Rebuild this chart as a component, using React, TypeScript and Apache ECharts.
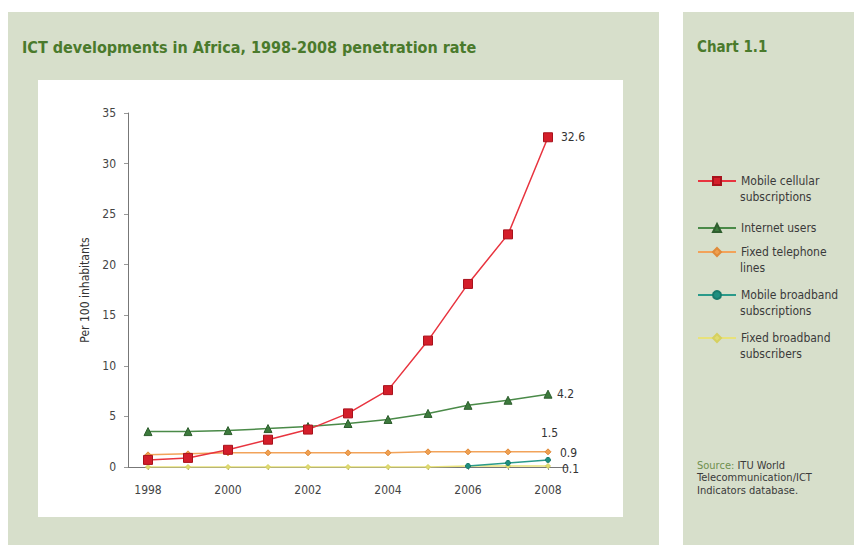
import React, { useEffect, useRef } from "react";
import * as echarts from "echarts";

const years = ["1998", "1999", "2000", "2001", "2002", "2003", "2004", "2005", "2006", "2007", "2008"];
const mobileCellular = [0.7, 0.9, 1.7, 2.7, 3.7, 5.3, 7.6, 12.5, 18.1, 23.0, 32.6];
const internetUsers = [3.5, 3.5, 3.6, 3.8, 4.0, 4.3, 4.7, 5.3, 6.1, 6.6, 7.2];
const fixedTelephone = [1.2, 1.3, 1.4, 1.4, 1.4, 1.4, 1.4, 1.5, 1.5, 1.5, 1.5];
const mobileBroadband = [null, null, null, null, null, null, null, null, 0.1, 0.4, 0.7];
const fixedBroadband = [0.0, 0.0, 0.0, 0.0, 0.0, 0.0, 0.0, 0.0, 0.1, 0.1, 0.1];

const seriesNames = [
  "Mobile cellular subscriptions",
  "Internet users",
  "Fixed telephone lines",
  "Mobile broadband subscriptions",
  "Fixed broadband subscribers",
];
const legendFirstLines = ["Mobile cellular", "Internet users", "Fixed telephone", "Mobile broadband", "Fixed broadband"];
const legendSecondLines = ["subscriptions", "", "lines", "subscriptions", "subscribers"];
const endLabels = ["32.6", "4.2", "1.5", "0.9", "0.1"];
const yTicks = [0, 35, 5];

const FONT = "'Liberation Sans Narrow', 'DejaVu Sans Condensed', 'Arial Narrow', sans-serif";

export default function App() {
  const ref = useRef<HTMLDivElement>(null);
  useEffect(() => {
    document.body.style.margin = "0";
    const chart = echarts.init(ref.current!, null, { renderer: "svg" });
    const seriesData = [mobileCellular, internetUsers, fixedTelephone, mobileBroadband, fixedBroadband];
    const styles = [
      { line: "#e8343f", fill: "#d41e2a", border: "#a8121c", symbol: "rect", size: 9, offset: [8, 0] },
      { line: "#4a8a48", fill: "#3c7a3c", border: "#2e5e2e", symbol: "triangle", size: 8, offset: [4, 0] },
      { line: "#f2a35a", fill: "#f0a050", border: "#e08a3a", symbol: "diamond", size: 6, offset: [-12, -19] },
      { line: "#2a9a8a", fill: "#1f8f80", border: "#187a6c", symbol: "circle", size: 5, offset: [7, -7] },
      { line: "#e8e27a", fill: "#e0dc70", border: "#d6d060", symbol: "diamond", size: 5, offset: [9, 3] },
    ];
    const series = seriesNames.map((name, i) => ({
      name,
      type: "line",
      data: seriesData[i],
      symbol: styles[i].symbol,
      symbolSize: styles[i].size,
      showAllSymbol: true,
      connectNulls: false,
      z: 10 - i,
      lineStyle: { color: styles[i].line, width: 1.5 },
      itemStyle: { color: styles[i].fill, borderColor: styles[i].border, borderWidth: 1 },
      endLabel: {
        show: true,
        formatter: () => endLabels[i],
        offset: styles[i].offset,
        distance: 5,
        color: "#333",
        fontFamily: FONT,
        fontSize: 12,
      },
    }));

    const lh = 16.5;
    const legendCenters = [181, 228, 252, 295, 338];
    const legends = seriesNames.map((name, i) => ({
      data: [name],
      orient: "vertical",
      left: 697,
      top: legendCenters[i] - lh / 2,
      padding: 0,
      itemWidth: 38,
      itemHeight: 10,
      formatter: () => legendFirstLines[i],
      textStyle: { fontFamily: FONT, fontSize: 12, color: "#3a3a3a", lineHeight: lh },
    }));
    const legendSecond = legendSecondLines
      .map((t, i) => ({ t, i }))
      .filter((d) => d.t)
      .map((d) => ({
        type: "text",
        left: 740,
        top: legendCenters[d.i] + 10,
        style: { text: d.t, fill: "#3a3a3a", font: `12px ${FONT}` },
      }));

    chart.setOption({
      animation: false,
      backgroundColor: "#ffffff",
      graphic: [
        { type: "rect", shape: { x: 8, y: 12, width: 651, height: 540 }, style: { fill: "#d7dfcb" }, z: -10 },
        { type: "rect", shape: { x: 683, y: 12, width: 180, height: 540 }, style: { fill: "#d7dfcb" }, z: -10 },
        { type: "rect", shape: { x: 38, y: 80, width: 585, height: 437 }, style: { fill: "#ffffff" }, z: -9 },
        {
          type: "text",
          left: 22,
          top: 39,
          style: {
            text: "ICT developments in Africa, 1998-2008 penetration rate",
            fill: "#4a7a2c",
            font: `bold 16px ${FONT}`,
          },
        },
        {
          type: "text",
          left: 697,
          top: 39,
          style: { text: "Chart 1.1", fill: "#4a7a2c", font: `bold 15px ${FONT}` },
        },
        {
          type: "text",
          left: 697,
          top: 459,
          style: {
            text: "{a|Source:} ITU World\nTelecommunication/ICT\nIndicators database.",
            fill: "#3a3a3a",
            font: `11px ${FONT}`,
            lineHeight: 12.5,
            rich: { a: { fill: "#6f8f4f", font: `11px ${FONT}`, lineHeight: 12.5 } },
          },
        },
        ...legendSecond,
      ],
      legend: legends,
      grid: { left: 128, top: 113, width: 440, height: 354, containLabel: false },
      xAxis: {
        type: "category",
        data: years,
        boundaryGap: true,
        axisLine: { lineStyle: { color: "#777" } },
        axisTick: { show: true, alignWithLabel: true, interval: 0, length: 3, lineStyle: { color: "#999" } },
        axisLabel: { interval: 1, color: "#444", fontFamily: FONT, fontSize: 12, margin: 17 },
      },
      yAxis: {
        type: "value",
        min: yTicks[0],
        max: yTicks[1],
        interval: yTicks[2],
        name: "Per 100 inhabitants",
        nameLocation: "middle",
        nameGap: 36,
        nameTextStyle: { color: "#333", fontFamily: FONT, fontSize: 12 },
        splitLine: { show: false },
        axisLine: { show: true, lineStyle: { color: "#777" } },
        axisTick: { show: true, length: 4, lineStyle: { color: "#999" } },
        axisLabel: { color: "#444", fontFamily: FONT, fontSize: 12, margin: 12 },
      },
      series,
    });
    return () => chart.dispose();
  }, []);
  return <div ref={ref} style={{ width: 854, height: 545 }} />;
}
